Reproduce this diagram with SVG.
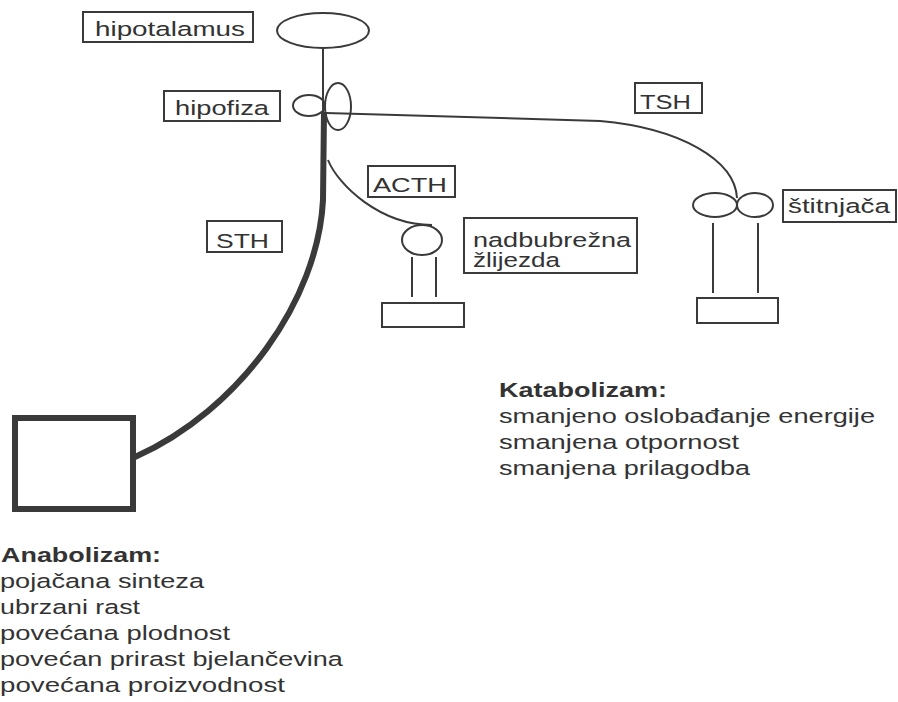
<svg xmlns="http://www.w3.org/2000/svg" width="898" height="702" viewBox="0 0 898 702">
<style>
.t{font-family:"Liberation Sans",Arial,sans-serif;font-size:19.5px;fill:#333}
.b{font-weight:bold}
.box{fill:none;stroke:#3a3a3a;stroke-width:2}
.ln{fill:none;stroke:#3a3a3a;stroke-width:2}
</style>
<rect width="898" height="702" fill="#fff"/>
<g id="connectors">
<path class="ln" d="M323 48 L323 116"/>
<path class="ln" d="M326 113 L600 121 C680 128 735 160 737 198"/>
<path class="ln" d="M328 160 C338 185 380 225 432 225"/>
<path fill="none" stroke="#3a3a3a" stroke-width="6" d="M324 112 L323 200 C318 300 240 410 135 457"/>
<path class="ln" d="M412 257 L412 297 M436 257 L436 297"/>
<path class="ln" d="M713 223 L713 293 M758 223 L758 293"/>
</g>
<g id="hipotalamus">
<rect class="box" x="83" y="12" width="170" height="30"/>
<text class="t" transform="matrix(1.42 0 0 1 95 36)" textLength="105.6" lengthAdjust="spacingAndGlyphs">hipotalamus</text>
<ellipse class="ln" cx="323" cy="30.5" rx="46" ry="17.5"/>
</g>
<g id="hipofiza">
<rect class="box" x="164" y="91" width="116" height="30"/>
<text class="t" transform="matrix(1.42 0 0 1 175 115)" textLength="66.2" lengthAdjust="spacingAndGlyphs">hipofiza</text>
<ellipse class="ln" cx="309" cy="105.5" rx="16" ry="10.5"/>
<ellipse class="ln" cx="338" cy="106.5" rx="13" ry="23.5"/>
</g>
<g id="tsh">
<rect class="box" x="635" y="83" width="67" height="30"/>
<text class="t" transform="matrix(1.42 0 0 1 640 109)" textLength="35.9" lengthAdjust="spacingAndGlyphs">TSH</text>
</g>
<g id="acth">
<rect class="box" x="368" y="166" width="87" height="31"/>
<text class="t" transform="matrix(1.42 0 0 1 373 192)" textLength="52.1" lengthAdjust="spacingAndGlyphs">ACTH</text>
</g>
<g id="sth">
<rect class="box" x="207" y="221" width="75" height="31"/>
<text class="t" transform="matrix(1.42 0 0 1 216 248)" textLength="37.3" lengthAdjust="spacingAndGlyphs">STH</text>
</g>
<g id="nadbubrezna">
<ellipse class="ln" cx="422" cy="240" rx="20" ry="15"/>
<rect class="box" x="382" y="303" width="82" height="24"/>
<rect class="box" x="464" y="218" width="173" height="55"/>
<text class="t" transform="matrix(1.42 0 0 1 473 247)" textLength="111.3" lengthAdjust="spacingAndGlyphs">nadbubrežna</text>
<text class="t" transform="matrix(1.42 0 0 1 473 267)" textLength="61.3" lengthAdjust="spacingAndGlyphs">žlijezda</text>
</g>
<g id="stitnjaca">
<ellipse class="ln" cx="715" cy="205" rx="22" ry="12"/>
<ellipse class="ln" cx="755" cy="205" rx="18" ry="12"/>
<rect class="box" x="697" y="298" width="81" height="25"/>
<rect class="box" x="783" y="190" width="113" height="32"/>
<text class="t" transform="matrix(1.42 0 0 1 788 213)" textLength="71.8" lengthAdjust="spacingAndGlyphs">štitnjača</text>
</g>
<g id="tijelo">
<rect x="15" y="418" width="118" height="91" fill="none" stroke="#3a3a3a" stroke-width="6"/>
</g>
<g id="katabolizam">
<text class="t b" transform="matrix(1.42 0 0 1 499 397)" textLength="118.3" lengthAdjust="spacingAndGlyphs">Katabolizam:</text>
<text class="t" transform="matrix(1.42 0 0 1 499 423)" textLength="264.8" lengthAdjust="spacingAndGlyphs">smanjeno oslobađanje energije</text>
<text class="t" transform="matrix(1.42 0 0 1 499 449)" textLength="169" lengthAdjust="spacingAndGlyphs">smanjena otpornost</text>
<text class="t" transform="matrix(1.42 0 0 1 499 475)" textLength="176.8" lengthAdjust="spacingAndGlyphs">smanjena prilagodba</text>
</g>
<g id="anabolizam">
<text class="t b" transform="matrix(1.42 0 0 1 1 562)" textLength="112.7" lengthAdjust="spacingAndGlyphs">Anabolizam:</text>
<text class="t" transform="matrix(1.42 0 0 1 0 588)" textLength="143.7" lengthAdjust="spacingAndGlyphs">pojačana sinteza</text>
<text class="t" transform="matrix(1.42 0 0 1 0 614)" textLength="98.6" lengthAdjust="spacingAndGlyphs">ubrzani rast</text>
<text class="t" transform="matrix(1.42 0 0 1 0 640)" textLength="162" lengthAdjust="spacingAndGlyphs">povećana plodnost</text>
<text class="t" transform="matrix(1.42 0 0 1 0 666)" textLength="241.5" lengthAdjust="spacingAndGlyphs">povećan prirast bjelančevina</text>
<text class="t" transform="matrix(1.42 0 0 1 0 692)" textLength="200.7" lengthAdjust="spacingAndGlyphs">povećana proizvodnost</text>
</g>
</svg>
